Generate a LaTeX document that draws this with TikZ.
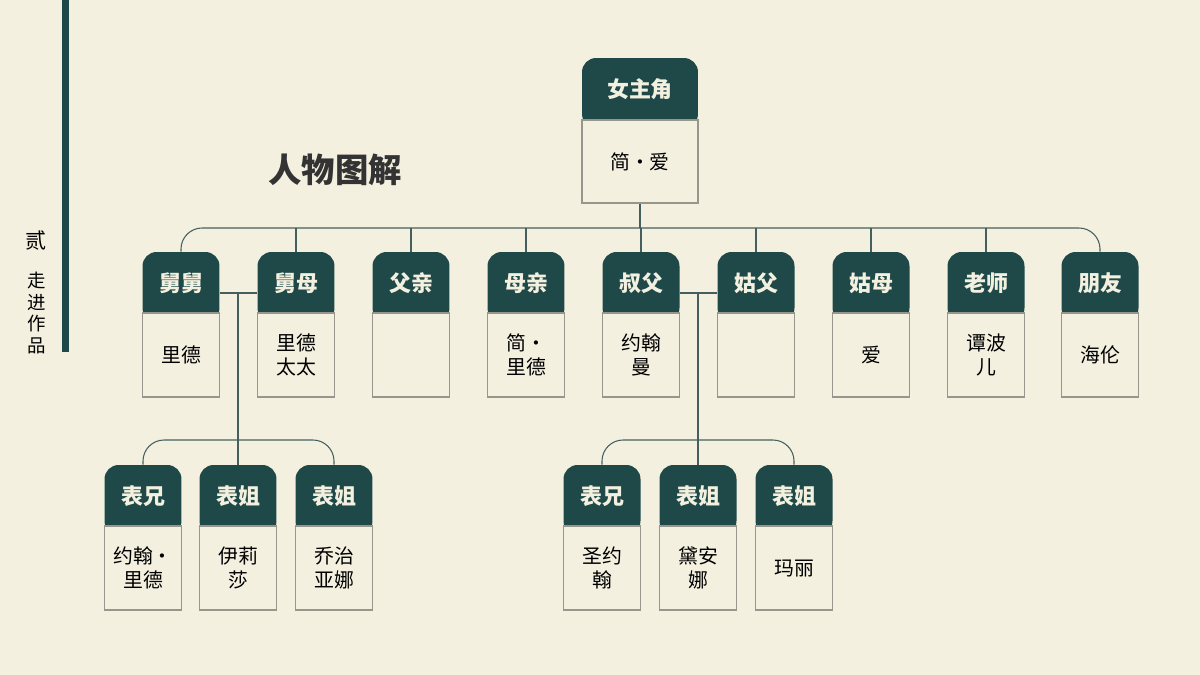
\documentclass[tikz,border=0pt]{standalone}
\usepackage{fontspec}
\setmainfont{Noto Sans CJK SC}
\usetikzlibrary{positioning, calc}
\definecolor{paper}{RGB}{243, 240, 224}
\definecolor{darkteal}{RGB}{30, 73, 72}
\definecolor{edgegray}{RGB}{150, 150, 140}
\tikzset{
    % dark title strip of a card
    head box/.style={
        rectangle, rounded corners=8pt, fill=darkteal, draw=none,
        minimum width=1.54cm, minimum height=1.4cm, inner sep=0pt
    },
    head text/.style={
        text=paper, font=\fontsize{12.5}{14}\selectfont\bfseries
    },
    % light lower part of a card
    body box/.style={
        rectangle, fill=paper, draw=edgegray, line width=0.6pt,
        minimum width=1.54cm, minimum height=1.68cm, inner sep=0pt,
        align=center, font=\fontsize{11.3}{13.5}\selectfont
    },
    % connectors
    link/.style={draw=darkteal!60!gray, line width=0.6pt, rounded corners=12pt}
}
% card: name, x, top y, title, text
\newcommand{\card}[5]{%
    \node[head box] (#1h) at (#2,{#3+35}) {};
    \node[head text] at (#2,{#3+31}) {#4};
    \node[body box] (#1) at (#2,{#3+61+42}) {#5};
}
\begin{document}
\begin{tikzpicture}[x=0.02cm, y=-0.02cm]
    \useasboundingbox[fill=paper] (0,0) rectangle (1200,675);

    % side band
    \fill[darkteal] (62,0) rectangle (69,352);
    \node[font=\fontsize{12}{14}\selectfont] (part) at (36,241) {贰};
    \node[font=\fontsize{10.5}{12.5}\selectfont, align=center] (chapter) at (37,313) {走\\进\\作\\品};

    % Title
    \node[font=\fontsize{19}{22}\selectfont\bfseries, text=black!80] (title) at (335,170) {人物图解};

    % ======== LINKS ========
    \coordinate (hub) at (640,228);
    \coordinate (hubA) at (238,440);
    \coordinate (hubB) at (698,440);

    % ======== TOP CARD ========
    \node[head box, minimum width=2.32cm] (janeh) at (640,93) {};
    \node[head text] at (640,89) {女主角};
    \node[body box, minimum width=2.32cm, minimum height=1.66cm] (jane) at (640,161.5) {简·爱};

    % ======== SECOND ROW ========
    \card{uncle}{181}{252}{舅舅}{里德}
    \card{aunt}{296}{252}{舅母}{里德\\太太}
    \card{father}{411}{252}{父亲}{}
    \card{mother}{526}{252}{母亲}{简·\\里德}
    \card{uncleb}{641}{252}{叔父}{约翰\\曼}
    \card{unclec}{756}{252}{姑父}{}
    \card{auntb}{871}{252}{姑母}{爱}
    \card{teacher}{986}{252}{老师}{谭波\\儿}
    \card{friend}{1100}{252}{朋友}{海伦}

    % ======== THIRD ROW ========
    \card{cousina}{143}{465}{表兄}{约翰·\\里德}
    \card{cousinb}{238}{465}{表姐}{伊莉\\莎}
    \card{cousinc}{334}{465}{表姐}{乔治\\亚娜}
    \card{cousind}{602}{465}{表兄}{圣约\\翰}
    \card{cousine}{698}{465}{表姐}{黛安\\娜}
    \card{cousinf}{794}{465}{表姐}{玛丽}

    % ======== CONNECTORS ========
    \begin{scope}[on background layer/.style={}]
    \draw[link] (jane.south) -- (hub);
    \draw[link] (uncleh.north) |- (hub) -| (friendh.north);
    \foreach \n in {aunth, fatherh, motherh, uncleb, unclech, aunthb, teacherh}
        {}
    \foreach \n in {aunth, fatherh, motherh, unclebh, unclech, auntbh, teacherh}
        \draw[link] (\n.north) -- (\n.north |- hub);

    \draw[link] (uncleh.east |- 0,293) -- (aunth.west |- 0,293);
    \draw[link] (238,293) -- (hubA);
    \draw[link] (cousinah.north) |- (hubA) -| (cousinch.north);
    \draw[link] (cousinbh.north) -- (hubA);

    \draw[link] (unclebh.east |- 0,293) -- (unclech.west |- 0,293);
    \draw[link] (698,293) -- (hubB);
    \draw[link] (cousindh.north) |- (hubB) -| (cousinfh.north);
    \draw[link] (cousineh.north) -- (hubB);
    \end{scope}
\end{tikzpicture}
\end{document}
